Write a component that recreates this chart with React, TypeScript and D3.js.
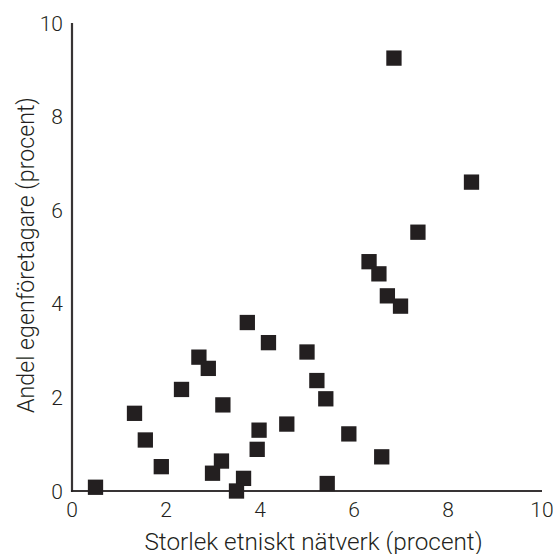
import React from "react";
import * as d3 from "d3";

const xValues = [0.5, 1.33, 1.56, 1.9, 2.33, 2.7, 2.9, 3.21, 3.18, 2.99, 3.65, 3.5, 3.73, 4.18, 3.98, 3.94, 5.0, 5.21, 5.4, 4.57, 5.89, 6.59, 5.43, 6.71, 6.99, 6.85, 8.5, 7.36, 6.32, 6.53];
const yValues = [0.08, 1.66, 1.09, 0.52, 2.17, 2.86, 2.62, 1.84, 0.64, 0.38, 0.27, 0.0, 3.6, 3.17, 1.3, 0.89, 2.97, 2.36, 1.97, 1.43, 1.22, 0.73, 0.16, 4.17, 3.95, 9.25, 6.6, 5.53, 4.9, 4.64];
const xTicks = [0, 2, 4, 6, 8, 10];
const yTicks = [0, 2, 4, 6, 8, 10];
const xTitle = "Storlek etniskt nätverk (procent)";
const yTitle = "Andel egenföretagare (procent)";

const W = 553;
const H = 554;
const ink = "#231f20";
const font = "Roboto, sans-serif";

export default function App() {
  const x = d3.scaleLinear().domain([0, 10]).range([72, 542]);
  const y = d3.scaleLinear().domain([0, 10]).range([491, 23]);
  const s = 15.3;
  return (
    <svg width={W} height={H} style={{ position: "absolute", left: 0, top: 0 }} fontFamily={font}>
      <rect width={W} height={H} fill="#fff" />
      {xValues.map((xv, i) => (
        <rect key={i} x={x(xv) - s / 2} y={y(yValues[i]) - s / 2} width={s} height={s} fill={ink} />
      ))}
      <line x1={x(0)} x2={x(0)} y1={y(10)} y2={y(0) + 1} stroke={ink} strokeWidth={2.2} opacity={0.9} />
      <line x1={x(0) - 1} x2={x(10)} y1={y(0)} y2={y(0)} stroke={ink} strokeWidth={2.2} opacity={0.9} />
      {xTicks.map((t) => (
        <text key={t} x={x(t)} y={517} textAnchor="middle" fontSize={21} fill={ink} fontWeight={300}>{t}</text>
      ))}
      {yTicks.map((t) => (
        <text key={t} x={63} y={y(t) + 7.5} textAnchor="end" fontSize={21} fill={ink} fontWeight={300}>{t}</text>
      ))}
      <text x={313.5} y={549.5} textAnchor="middle" fontSize={24.3} fill={ink} fontWeight={300}>{xTitle}</text>
      <text transform={`translate(33.5,255) rotate(-90)`} textAnchor="middle" fontSize={23.2} fill={ink} fontWeight={300}>{yTitle}</text>
    </svg>
  );
}
